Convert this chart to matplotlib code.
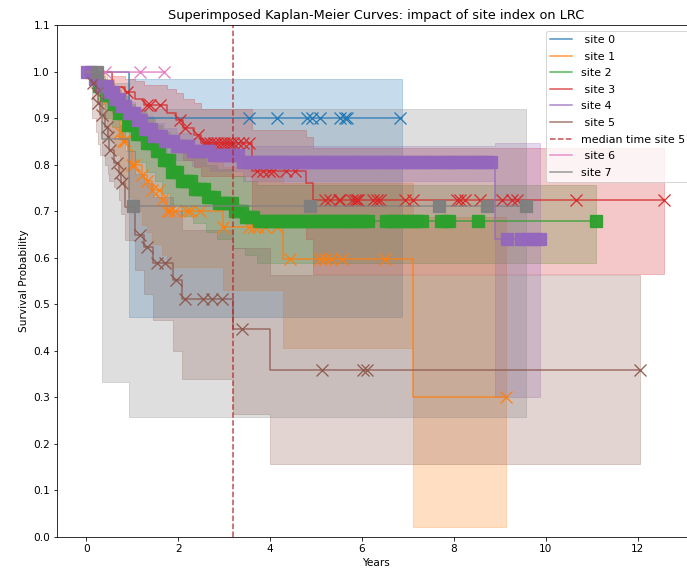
import matplotlib
matplotlib.use("Agg")
import matplotlib.pyplot as plt
import numpy as np

# Kaplan-Meier estimates per site: step times, survival, CI lower/upper, censor times
t0 = [0, 0.93, 6.87]
s0 = [1.0, 0.90, 0.90]
lo0 = [1.0, 0.473, 0.473]
hi0 = [1.0, 0.984, 0.984]
cens0 = [3.53, 4.16, 4.8, 4.91, 5.09, 5.52, 5.63, 5.67, 6.83]

t1 = [0, 0.3, 0.44, 0.6, 0.73, 0.8, 0.9, 0.99, 1.2, 1.31, 1.42, 1.64, 1.75, 2.97, 4.29, 7.11, 9.14]
s1 = [1.0, 0.97, 0.939, 0.905, 0.871, 0.85, 0.831, 0.80, 0.778, 0.765, 0.745, 0.724, 0.701, 0.667, 0.598, 0.301, 0.301]
lo1 = [1.0, 0.90, 0.86, 0.82, 0.78, 0.755, 0.73, 0.70, 0.67, 0.655, 0.63, 0.605, 0.58, 0.53, 0.407, 0.022, 0.022]
hi1 = [1.0, 0.995, 0.985, 0.97, 0.95, 0.935, 0.92, 0.90, 0.885, 0.875, 0.86, 0.845, 0.825, 0.795, 0.76, 0.688, 0.688]
cens1 = [0.44, 0.73, 0.8, 0.84, 0.99, 1.03, 1.2, 1.31, 1.42, 1.57, 1.64, 1.75, 1.82, 1.93, 2.19, 2.26,
         2.47, 2.98, 3.53, 3.64, 3.74, 3.89, 4.15, 4.44, 5.09, 5.2, 5.33, 5.56, 6.5, 9.14]

t2 = [0, 0.25, 0.4, 0.55, 0.7, 0.88, 1.05, 1.3, 1.5, 1.65, 1.82, 2.05, 2.33, 2.6, 2.84, 3.2, 3.45, 3.71, 11.1]
s2 = [1.0, 0.97, 0.95, 0.93, 0.91, 0.885, 0.865, 0.846, 0.83, 0.81, 0.785, 0.765, 0.748, 0.73, 0.717, 0.70, 0.688, 0.678, 0.678]
lo2 = [1.0, 0.93, 0.90, 0.88, 0.855, 0.83, 0.805, 0.785, 0.765, 0.74, 0.715, 0.69, 0.675, 0.655, 0.64, 0.62, 0.605, 0.588, 0.588]
hi2 = [1.0, 0.99, 0.98, 0.965, 0.95, 0.93, 0.915, 0.9, 0.885, 0.87, 0.85, 0.83, 0.815, 0.8, 0.79, 0.775, 0.765, 0.756, 0.756]
cens2 = [0.28, 0.35, 0.42, 0.48, 0.53, 0.6, 0.66, 0.72, 0.78, 0.84, 0.9, 0.97, 1.02, 1.1, 1.16, 1.22,
         1.33, 1.38, 1.45, 1.53, 1.58, 1.68, 1.74, 1.79, 1.86, 1.92, 1.98, 2.08, 2.14, 2.2, 2.27, 2.36,
         2.42, 2.5, 2.56, 2.64, 2.7, 2.77, 2.88, 2.95, 3.02, 3.1, 3.16, 3.24, 3.3, 3.38, 3.48, 3.56,
         3.63, 3.76, 3.85, 3.93, 4.02, 4.1, 4.19, 4.27, 4.35, 4.44, 4.52, 4.6, 4.69, 4.77, 4.86, 4.94,
         5.03, 5.11, 5.2, 5.28, 5.37, 5.45, 5.54, 5.62, 5.7, 5.79, 5.87, 5.95, 6.04, 6.12, 6.53, 6.62,
         6.7, 6.8, 6.91, 7.0, 7.1, 7.2, 7.31, 7.73, 7.82, 7.9, 8.52, 11.1]

t3 = [0, 0.55, 0.85, 1.05, 1.25, 1.75, 1.95, 2.1, 2.35, 2.5, 3.6, 4.78, 4.94, 12.58]
s3 = [1.0, 0.967, 0.955, 0.942, 0.928, 0.91, 0.896, 0.878, 0.864, 0.846, 0.787, 0.76, 0.724, 0.724]
lo3 = [1.0, 0.91, 0.895, 0.88, 0.865, 0.845, 0.83, 0.81, 0.795, 0.775, 0.69, 0.64, 0.565, 0.565]
hi3 = [1.0, 0.99, 0.985, 0.98, 0.972, 0.962, 0.953, 0.942, 0.932, 0.92, 0.875, 0.86, 0.835, 0.835]
cens3 = [0.88, 1.31, 1.38, 1.6, 2.04, 2.15, 2.44, 2.55, 2.62, 2.7, 2.78, 2.85, 2.92, 3.0, 3.07, 3.13,
         3.2, 3.3, 3.42, 3.55, 3.71, 3.85, 3.98, 4.07, 4.35, 4.55, 5.2, 5.31, 5.49, 5.53, 5.78, 5.85,
         5.89, 5.92, 6.25, 6.33, 6.4, 6.94, 7.12, 8.07, 8.14, 8.25, 8.58, 9.05, 9.27, 9.37, 10.65, 12.58]

t4 = [0, 0.15, 0.3, 0.45, 0.6, 0.75, 0.9, 1.05, 1.25, 1.45, 1.7, 1.95, 2.3, 2.7, 3.4, 8.89, 9.88]
s4 = [1.0, 0.985, 0.97, 0.955, 0.94, 0.925, 0.91, 0.895, 0.877, 0.862, 0.85, 0.84, 0.83, 0.82, 0.805, 0.64, 0.64]
lo4 = [1.0, 0.97, 0.95, 0.93, 0.915, 0.9, 0.885, 0.868, 0.85, 0.833, 0.82, 0.81, 0.798, 0.787, 0.765, 0.30, 0.30]
hi4 = [1.0, 0.995, 0.985, 0.975, 0.96, 0.948, 0.935, 0.92, 0.905, 0.89, 0.878, 0.868, 0.858, 0.85, 0.84, 0.846, 0.846]
cens4 = [0.02, 0.1, 0.18, 0.24, 0.32, 0.38, 0.44, 0.51, 0.57, 0.63, 0.7, 0.78, 0.84, 0.92, 0.98, 1.04,
         1.12, 1.19, 1.27, 1.33, 1.4, 1.48, 1.55, 1.63, 1.72, 1.8, 1.88, 1.97, 2.05, 2.14, 2.22, 2.33,
         2.42, 2.5, 2.6, 2.68, 2.78, 2.86, 2.95, 3.04, 3.12, 3.2, 3.3, 3.42, 3.52, 3.62, 3.71, 3.8,
         3.9, 4.0, 4.1, 4.2, 4.3, 4.4, 4.5, 4.62, 4.72, 4.82, 4.92, 5.02, 5.12, 5.22, 5.33, 5.43,
         5.53, 5.63, 5.74, 5.84, 5.94, 6.05, 6.15, 6.25, 6.36, 6.46, 6.56, 6.66, 6.76, 6.87, 6.97,
         7.07, 7.18, 7.28, 7.38, 7.49, 7.59, 7.69, 7.8, 7.9, 8.0, 8.1, 8.21, 8.31, 8.41, 8.52, 8.62,
         8.72, 8.8, 9.15, 9.47, 9.6, 9.75, 9.88]

t5 = [0, 0.12, 0.2, 0.25, 0.3, 0.4, 0.47, 0.5, 0.6, 0.7, 0.76, 0.84, 1.06, 1.25, 1.45, 1.89, 2.08, 3.19, 4.0, 12.05]
s5 = [1.0, 0.975, 0.953, 0.932, 0.907, 0.881, 0.86, 0.831, 0.803, 0.781, 0.76, 0.709, 0.649, 0.623, 0.588, 0.552, 0.511, 0.447, 0.358, 0.358]
lo5 = [1.0, 0.90, 0.87, 0.845, 0.82, 0.80, 0.78, 0.765, 0.752, 0.725, 0.695, 0.638, 0.574, 0.523, 0.466, 0.40, 0.34, 0.265, 0.157, 0.157]
hi5 = [1.0, 0.996, 0.99, 0.98, 0.97, 0.955, 0.94, 0.92, 0.90, 0.885, 0.87, 0.83, 0.78, 0.76, 0.73, 0.70, 0.66, 0.62, 0.563, 0.563]
cens5 = [0.15, 0.22, 0.26, 0.33, 0.44, 0.48, 0.52, 0.66, 0.73, 0.77, 1.17, 1.31, 1.53, 1.71, 1.95,
         2.15, 2.54, 2.73, 2.95, 3.38, 5.13, 6.03, 6.11, 12.05]
median5 = 3.19

t6 = [0, 1.70]
s6 = [1.0, 1.0]
lo6 = [1.0, 1.0]
hi6 = [1.0, 1.0]
cens6 = [0.41, 1.17, 1.70]

t7 = [0, 0.35, 0.93, 9.57]
s7 = [1.0, 0.855, 0.712, 0.712]
lo7 = [1.0, 0.334, 0.258, 0.258]
hi7 = [1.0, 0.975, 0.92, 0.92]
cens7 = [0.22, 1.01, 4.86, 7.68, 8.72, 9.57]

labels = [" site 0", " site 1", "site 2", " site 3", "site 4", " site 5", " site 6", "site 7"]
colors = ["tab:blue", "tab:orange", "tab:green", "tab:red", "tab:purple", "tab:brown", "tab:pink", "tab:gray"]
markers = ["x", "x", "s", "x", "s", "x", "x", "s"]

curves = [
    (t0, s0, lo0, hi0, cens0),
    (t1, s1, lo1, hi1, cens1),
    (t2, s2, lo2, hi2, cens2),
    (t3, s3, lo3, hi3, cens3),
    (t4, s4, lo4, hi4, cens4),
    (t5, s5, lo5, hi5, cens5),
    (t6, s6, lo6, hi6, cens6),
    (t7, s7, lo7, hi7, cens7),
]

fig = plt.figure(figsize=(687 / 72, 574 / 72), dpi=72)
ax = fig.add_axes([57 / 687, 1 - 537 / 574, (695 - 57) / 687, 512 / 574])

for i, (t, s, lo, hi, cens) in enumerate(curves):
    c = colors[i]
    ax.fill_between(t, lo, hi, step="post", color=c, alpha=0.25, linewidth=1.0)
    ax.plot(t, s, drawstyle="steps-post", color=c, alpha=0.8, linewidth=1.5, label=labels[i])
    # censored subjects sit on the curve at their censoring time
    idx = np.searchsorted(t, cens, side="right") - 1
    ax.plot(cens, np.array(s)[idx], linestyle="none", marker=markers[i], ms=12,
            mew=1.3, color=c, alpha=0.95)
    if i == 5:
        ax.axvline(median5, linestyle="--", color="firebrick", alpha=0.8, linewidth=1.5,
                   label="median time site 5")

ax.set_xlim(-0.64, 13.25)
ax.set_ylim(0, 1.1)
ax.set_yticks(np.arange(0, 1.11, 0.1))
ax.tick_params(labelsize=10.5)
ax.set_title("Superimposed Kaplan-Meier Curves: impact of site index on LRC", fontsize=12.9)
ax.set_xlabel("Years", fontsize=10.5)
ax.set_ylabel("Survival Probability", fontsize=10.5)
ax.legend(loc="upper right", fontsize=11, labelspacing=0.6)

fig.savefig("out.png", dpi=72)
